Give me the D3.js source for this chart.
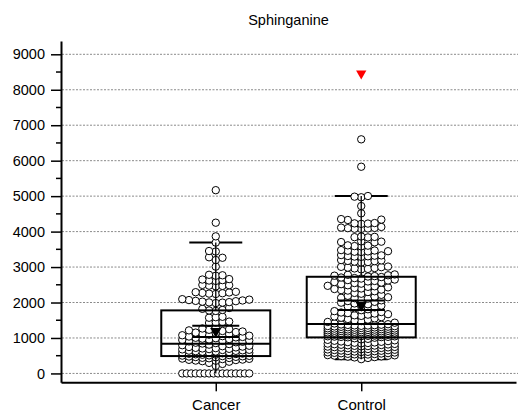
<!DOCTYPE html>
<html>
<head>
<meta charset="utf-8">
<script src="https://cdn.jsdelivr.net/npm/d3@7"></script>
<style>
  body { margin: 0; background: #fff; }
  svg { display: block; }
</style>
</head>
<body>
<svg id="chart" width="518" height="414"></svg>
<script>
// ---- data ----
const title = "Sphinganine";
const categories = ["Cancer", "Control"];

const cancerValues = [
  0, 0, 0, 0, 0, 0, 0, 0, 0, 0, 0, 0, 0, 0, 0, 0,
  214, 268, 297, 331,
  346, 358, 363, 377, 384, 391, 405, 412, 419, 428, 436, 441, 455, 462, 468, 477, 483, 489,
  496, 503, 509, 518, 527, 531, 540, 548, 556, 561, 570, 579, 584, 593, 601, 612, 618, 626,
  637, 643, 652, 661, 667, 678, 686, 694, 705, 713, 722, 734, 745, 757, 768, 781, 796, 812, 829,
  844, 856, 867, 879, 893, 902, 918, 931, 944, 957, 969, 981, 994, 1006, 1017, 1029, 1041, 1052, 1064, 1077,
  1093, 1108, 1122, 1137, 1151, 1166, 1182, 1197, 1214, 1231, 1249, 1268, 1291,
  1424, 1437, 1449, 1462, 1571, 1586, 1598, 1762, 1776, 1790, 1822, 1846,
  1984, 1997, 2003, 2011, 2024, 2037, 2046, 2058, 2069, 2081, 2094,
  2240, 2251, 2262, 2270, 2283, 2291, 2302,
  2455, 2468, 2476, 2489, 2497,
  2609, 2620, 2632, 2648, 2661,
  2755, 2768, 2782,
  3012, 3198, 3262, 3276, 3438, 3452,
  3690, 3866, 4251, 5168
];

const controlValues = [
  403, 436, 452, 461, 474, 482, 488, 497, 503, 511, 517, 526, 534, 538, 547, 553, 562, 569,
  573, 581, 590, 596, 604, 609, 618, 627, 631, 640, 646, 655, 661, 668, 677, 684, 689, 698,
  706, 713, 719, 727, 735, 742, 748, 757, 764, 771, 779, 786, 794, 801, 809, 817, 824, 833,
  841, 849, 858, 866, 874, 883, 892, 901, 911, 922, 934, 947, 961, 976, 992, 1008,
  1019, 1024, 1031, 1033, 1039, 1046, 1048, 1052, 1061, 1063, 1067, 1074, 1078, 1083, 1089,
  1093, 1098, 1104, 1107, 1113, 1119, 1122, 1128, 1135, 1137, 1143, 1149, 1152, 1158, 1163,
  1169, 1173, 1178, 1184, 1188, 1194, 1201, 1203, 1209, 1216, 1219, 1224, 1231, 1235, 1240,
  1247, 1251, 1257, 1264, 1268, 1273, 1281, 1284, 1290, 1297, 1302, 1308, 1315, 1319, 1325,
  1333, 1337, 1343, 1352, 1355, 1361, 1368, 1374, 1381, 1388,
  1409, 1431, 1452, 1476, 1497, 1518, 1536, 1553, 1571, 1589, 1607, 1623, 1640, 1658, 1671, 1689, 1702, 1718,
  1731, 1757, 1784, 1811, 1838, 1862, 1889, 1912, 1933, 1951, 1974, 1996, 2019, 2041, 2062, 2087,
  2109, 2122, 2134, 2148, 2163, 2189, 2217, 2248, 2271, 2296,
  2318, 2337, 2350, 2364, 2381, 2396, 2412, 2427, 2443, 2458, 2471, 2487,
  2518, 2532, 2549, 2561, 2577, 2594, 2608, 2621, 2633, 2648,
  2676, 2689, 2705, 2718,
  2733, 2745, 2757, 2768, 2781, 2792,
  2935, 2948, 2961, 2972, 2985, 2997, 3006, 3014,
  3128, 3141, 3153, 3166, 3174, 3188, 3197, 3288, 3296, 3304, 3312, 3321, 3329, 3338,
  3425, 3432, 3441, 3447, 3459, 3466, 3478,
  3583, 3591, 3604, 3612, 3698, 3705, 3716, 3724, 3836, 3843, 3851, 3862,
  4075, 4081, 4089, 4097, 4104, 4112, 4131, 4218, 4226, 4232, 4241, 4327, 4338, 4352, 4515, 4720,
  4968, 4985, 5003,
  5829, 6602
];

// box statistics, one entry per category
const whiskerLow  = [0, 403];
const quartile1   = [490, 1016];
const medians     = [835, 1391];
const quartile3   = [1778, 2726];
const whiskerHigh = [3690, 5003];
const means       = [1187, 1923];
const meanError   = [158, 137];
const extremeMark = [null, 8460];

const yTicks = [0, 1000, 2000, 3000, 4000, 5000, 6000, 7000, 8000, 9000];
const yMinorTicks = [500, 1500, 2500, 3500, 4500, 5500, 6500, 7500, 8500];

// ---- layout ----
const svg = d3.select("#chart");
const font = "'Liberation Sans', Arial, Helvetica, sans-serif";
const plot = { left: 61, right: 516, top: 41, bottom: 382.3 };

const x = d3.scalePoint().domain(categories).range([plot.left, plot.right]).padding(1.064);
const y = d3.scaleLinear().domain([-250, 9375]).range([plot.bottom, plot.top]);

svg.append("rect").attr("width", 518).attr("height", 414).attr("fill", "#fff");

// title
svg.append("text")
  .attr("x", (plot.left + plot.right) / 2).attr("y", 25)
  .attr("text-anchor", "middle")
  .attr("font-family", font).attr("font-size", 14.5)
  .text(title);

// horizontal grid
svg.append("g").selectAll("line").data(yTicks).join("line")
  .attr("x1", plot.left + 1).attr("x2", 518)
  .attr("y1", d => y(d)).attr("y2", d => y(d))
  .attr("stroke", "#8a8a8a").attr("stroke-width", 1)
  .attr("stroke-dasharray", "2,1.5");

// ---- swarm layout ----
const dotR = 3.7, colStep = 6.7, nCols = 11, minGap = 4.8;

function swarm(values, cx) {
  const sorted = values.slice().sort(d3.ascending);
  const pts = [];
  const half = (nCols - 1) / 2;
  let flip = false;
  const offsets = () => {
    const o = [0];
    for (let k = 1; k <= half; k++) flip ? o.push(k, -k) : o.push(-k, k);
    flip = !flip;
    return o;
  };
  const clearance = (px, py) => {
    let m = Infinity;
    for (const p of pts) {
      const dy = p.y - py;
      if (Math.abs(dy) >= m) continue;
      const d = Math.hypot(p.x - px, dy);
      if (d < m) m = d;
    }
    return m;
  };
  for (let i = 0; i < sorted.length;) {
    let j = i;
    while (j < sorted.length && sorted[j] === sorted[i]) j++;
    const n = j - i, py = y(sorted[i]);
    if (n > nCols) {
      // a large group of equal values is spread evenly across the full width
      const w = (nCols - 1) * colStep;
      for (let k = 0; k < n; k++) pts.push({ x: cx - w / 2 + k * w / (n - 1), y: py });
    } else {
      for (let k = i; k < j; k++) {
        let best = cx, bestC = -1;
        for (const o of offsets()) {
          const px = cx + o * colStep, c = clearance(px, py);
          if (c >= minGap) { best = px; break; }
          if (c > bestC) { bestC = c; best = px; }
        }
        pts.push({ x: best, y: py });
      }
    }
    i = j;
  }
  return pts;
}

const groups = [cancerValues, controlValues];
const boxW = 109, capW = 53, meanW = 47;

// whisker caps (beneath the points)
const capG = svg.append("g").attr("stroke", "#000").attr("stroke-width", 2);
categories.forEach((c, i) => {
  [whiskerLow[i], whiskerHigh[i]].forEach(v => {
    capG.append("line")
      .attr("x1", x(c) - capW / 2).attr("x2", x(c) + capW / 2)
      .attr("y1", y(v)).attr("y2", y(v));
  });
});

// points
categories.forEach((c, i) => {
  svg.append("g").selectAll("circle").data(swarm(groups[i], x(c))).join("circle")
    .attr("cx", d => d.x).attr("cy", d => d.y).attr("r", dotR)
    .attr("fill", "#fff").attr("stroke", "#000").attr("stroke-width", 1);
});

// boxes, whiskers, means
const boxG = svg.append("g").attr("stroke", "#000").attr("fill", "none");
categories.forEach((c, i) => {
  const cx = x(c);
  boxG.append("line").attr("stroke-width", 1.3)
    .attr("x1", cx).attr("x2", cx).attr("y1", y(quartile3[i])).attr("y2", y(whiskerHigh[i]));
  boxG.append("line").attr("stroke-width", 1.3)
    .attr("x1", cx).attr("x2", cx).attr("y1", y(quartile1[i])).attr("y2", y(whiskerLow[i]));
  boxG.append("rect").attr("stroke-width", 2)
    .attr("x", cx - boxW / 2).attr("width", boxW)
    .attr("y", y(quartile3[i])).attr("height", y(quartile1[i]) - y(quartile3[i]));
  boxG.append("line").attr("stroke-width", 2)
    .attr("x1", cx - boxW / 2).attr("x2", cx + boxW / 2)
    .attr("y1", y(medians[i])).attr("y2", y(medians[i]));
  [means[i] - meanError[i], means[i] + meanError[i]].forEach(v => {
    boxG.append("line").attr("stroke-width", 2)
      .attr("x1", cx - meanW / 2).attr("x2", cx + meanW / 2)
      .attr("y1", y(v)).attr("y2", y(v));
  });
  svg.append("path")
    .attr("d", d3.symbol(d3.symbolTriangle, 55)())
    .attr("transform", `translate(${cx},${y(means[i])}) rotate(180)`)
    .attr("fill", "#000");
  if (extremeMark[i] != null) {
    svg.append("path")
      .attr("d", d3.symbol(d3.symbolTriangle, 46)())
      .attr("transform", `translate(${cx},${y(extremeMark[i])}) rotate(180)`)
      .attr("fill", "#ff0000");
  }
});

// ---- axes ----
const yAxis = svg.append("g")
  .attr("transform", `translate(${plot.left},0)`)
  .call(d3.axisLeft(y).tickValues(yTicks).tickFormat(d3.format("d")).tickSize(10).tickSizeOuter(0).tickPadding(6));
yAxis.select(".domain").attr("stroke-width", 2);
yAxis.selectAll(".tick line").attr("stroke-width", 1.5);
yAxis.selectAll("text").attr("font-family", font).attr("font-size", 14.5).attr("fill", "#000");
yAxis.append("g").selectAll("line").data(yMinorTicks).join("line")
  .attr("x1", 0).attr("x2", -5).attr("y1", d => y(d)).attr("y2", d => y(d))
  .attr("stroke", "#000").attr("stroke-width", 1.5);

const xAxis = svg.append("g")
  .attr("transform", `translate(0,${plot.bottom})`)
  .call(d3.axisBottom(x).tickSize(9).tickSizeOuter(0).tickPadding(8));
xAxis.select(".domain").attr("stroke-width", 2);
xAxis.selectAll(".tick line").attr("stroke-width", 1.5);
xAxis.selectAll("text").attr("font-family", font).attr("font-size", 15).attr("fill", "#000");
</script>
</body>
</html>
